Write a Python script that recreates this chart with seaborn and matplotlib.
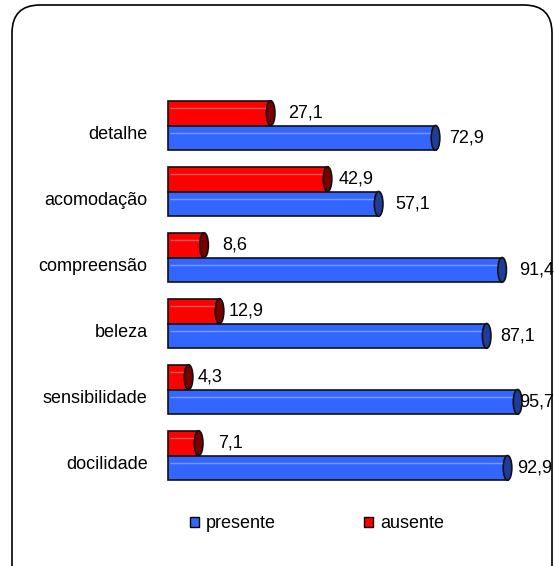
import numpy as np
import pandas as pd
import matplotlib
matplotlib.use("Agg")
import matplotlib.pyplot as plt
import matplotlib.transforms as mtransforms
from matplotlib.patches import Ellipse, FancyBboxPatch, Patch
import seaborn as sns

categories = ["detalhe", "acomodação", "compreensão", "beleza", "sensibilidade", "docilidade"]
presente = [72.9, 57.1, 91.4, 87.1, 95.7, 92.9]
ausente = [27.1, 42.9, 8.6, 12.9, 4.3, 7.1]

blue = "#3366FF"
blue_cap = "#1F3C96"
red = "#FF0000"
red_cap = "#7A0000"

# manual nudges (pixels) of the value labels, as placed in the original
red_label_nudge = [13, 7, 14, 5, 5, 15]
blue_label_nudge = [9, 12, 13, 9, -3, 5]

df = pd.DataFrame({
    "categoria": categories * 2,
    "valor": ausente + presente,
    "grupo": ["ausente"] * len(categories) + ["presente"] * len(categories),
})

sns.set_style("white")
plt.rcParams["font.family"] = ["Liberation Sans", "DejaVu Sans"]
plt.rcParams["text.color"] = "black"
plt.rcParams["ytick.color"] = "black"

fig = plt.figure(figsize=(5.54, 5.66), dpi=100)

# frame with rounded corners, drawn in pixel units
bg = fig.add_axes([0, 0, 1, 1])
bg.set_xlim(0, 554)
bg.set_ylim(566, 0)
bg.axis("off")
bg.add_patch(FancyBboxPatch((12, 5), 540, 600, boxstyle="round,pad=0,rounding_size=28",
                            facecolor="white", edgecolor="black", linewidth=1.2))

ax = fig.add_axes([177.4 / 554, 1 - 488.5 / 566, 360 / 554, 396 / 566])
ax.patch.set_alpha(0)
sns.barplot(data=df, y="categoria", x="valor", hue="grupo", order=categories,
            hue_order=["ausente", "presente"], palette=[red, blue], width=0.75,
            saturation=1, orient="h", ax=ax, legend=False,
            edgecolor="#111111", linewidth=1.2)

ax.set_xlim(0, 100)
ax.set_ylim(len(categories) - 0.5, -0.5)
ax.set_xlabel("")
ax.set_ylabel("")
ax.set_xticks([])
ax.tick_params(axis="y", length=0, labelsize=13, pad=21.5, labelcolor="black")
for lab in ax.get_yticklabels():
    lab.set_transform(lab.get_transform() + mtransforms.ScaledTranslation(0, -0.07, fig.dpi_scale_trans))
for s in ax.spines.values():
    s.set_visible(False)

cap_w = 2.4
depth = 2.5  # the 3D bars start a little left of the zero line
bars = [p for p in ax.patches]
n = len(categories)
for i, bar in enumerate(bars):
    w = bar.get_width()
    h = bar.get_height()
    y0 = bar.get_y()
    is_red = i < n
    bar.set_x(-depth)
    bar.set_width(w + depth - cap_w / 2)
    bar.set_clip_on(False)
    ax.plot([-depth + 0.4, w - cap_w], [y0 + h * 0.3, y0 + h * 0.3],
            color="white", alpha=0.35, linewidth=1, solid_capstyle="butt", clip_on=False)
    ax.add_patch(Ellipse((w - cap_w / 2, y0 + h / 2), cap_w, h,
                         facecolor=red_cap if is_red else blue_cap,
                         edgecolor="#111111", linewidth=1.2, zorder=3, clip_on=False))
    label = f"{w:.1f}".replace(".", ",")
    dx = red_label_nudge[i] if is_red else blue_label_nudge[i - n]
    off = mtransforms.offset_copy(ax.transData, fig=fig, x=dx, y=0, units="dots")
    ax.text(w, y0 + h / 2, label, va="center", ha="left", fontsize=13, transform=off, zorder=4)

handles = [Patch(facecolor=blue, edgecolor="black", label="presente"),
           Patch(facecolor=red, edgecolor="black", label="ausente")]
fig.legend(handles=handles, loc="center", bbox_to_anchor=(317 / 554, 1 - 524 / 566),
           ncol=2, frameon=False, fontsize=13, handlelength=0.5, handleheight=0.5,
           handletextpad=0.4, columnspacing=4.9)

fig.savefig("out.png", dpi=100)
